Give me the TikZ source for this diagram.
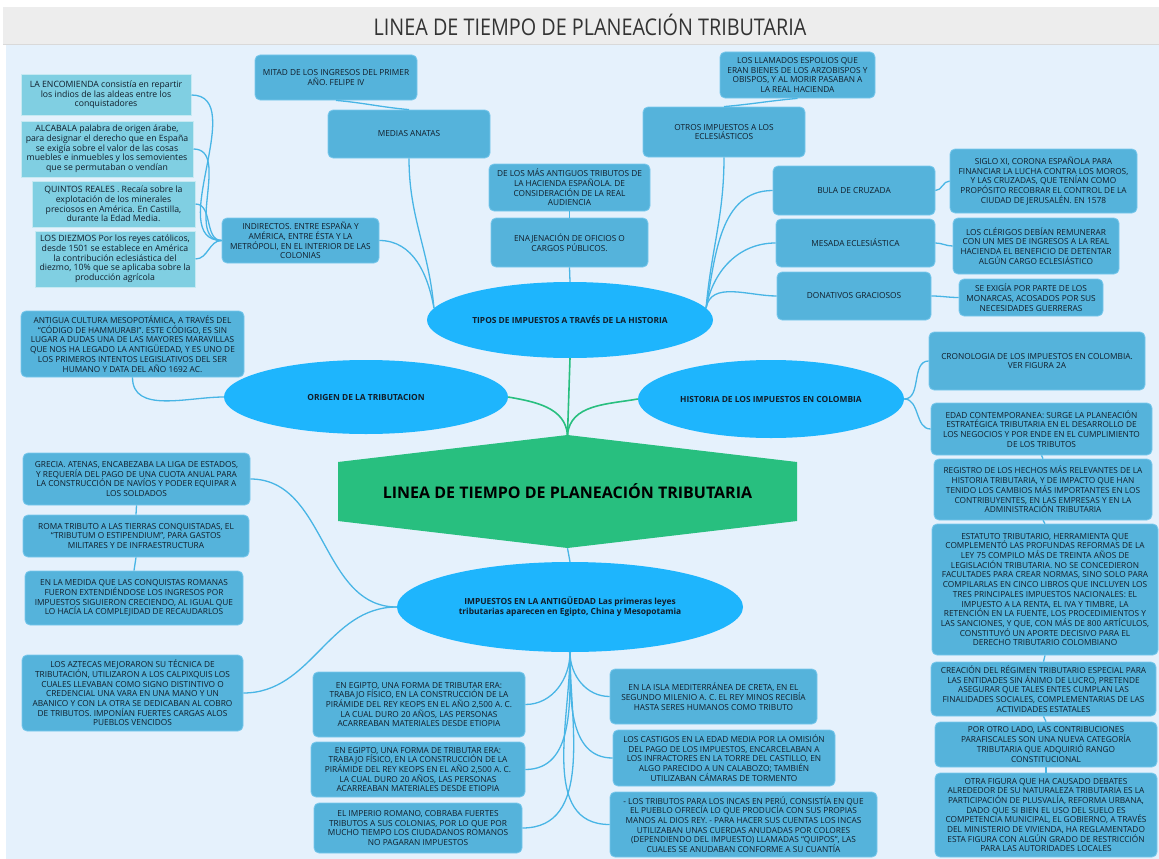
\documentclass[tikz,border=0pt]{standalone}
\usepackage{fontspec}
\setmainfont{Open Sans}
\newfontfamily\titlefont[FakeStretch=0.86]{Open Sans}
\usetikzlibrary{shapes.geometric}
\definecolor{bgblue}{HTML}{E5F1FC}
\definecolor{bargray}{HTML}{EDEDED}
\definecolor{boxblue}{HTML}{55B3DB}
\definecolor{boxline}{HTML}{78C8EC}
\definecolor{leafcyan}{HTML}{80CFE2}
\definecolor{ellblue}{HTML}{1EB5FD}
\definecolor{hexgreen}{HTML}{28BF7F}
\definecolor{linkblue}{HTML}{48B5E5}
\definecolor{txt}{HTML}{111E2B}
\begin{document}
\begin{tikzpicture}[x=1pt,y=-1pt,
  box/.style={rectangle, rounded corners=5pt, fill=boxblue, draw=boxline, line width=0.8pt,
    text=txt, align=center, inner sep=1pt, font=\fontsize{8.3}{9.7}\selectfont},
  leaf/.style={rectangle, fill=leafcyan, draw=white!55!leafcyan, line width=1pt,
    text=txt, align=center, inner sep=1pt, font=\fontsize{8.7}{9.7}\selectfont},
  topic/.style={ellipse, fill=ellblue, inner sep=0pt, text=txt, align=center,
    font=\bfseries\fontsize{8.4}{10}\selectfont},
  link/.style={draw=linkblue, line width=1.3pt},
  stem/.style={draw=hexgreen, line width=1.6pt}]
  \useasboundingbox (0,0) rectangle (1159,859);
  \fill[white] (0,0) rectangle (1159,859);
  \fill[bgblue] (6,45) rectangle (1159,859);
  \fill[bargray] (3,7) rectangle (1159,44);
  \draw[black!15] (3,44.5) -- (1159,44.5);
  \node[text=black!80] (title) at (590,25) {\titlefont\fontsize{23}{26}\selectfont LINEA DE TIEMPO DE PLANEACIÓN TRIBUTARIA};

  % centro
  \node[rectangle, minimum width=459pt, minimum height=113pt, inner sep=0pt, text=black,
    font=\bfseries\fontsize{16}{18}\selectfont,
    path picture={\fill[hexgreen] (path picture bounding box.north)
      -- ([yshift=-27pt]path picture bounding box.north east)
      -- ([yshift=27pt]path picture bounding box.south east)
      -- (path picture bounding box.south)
      -- ([yshift=27pt]path picture bounding box.south west)
      -- ([yshift=-27pt]path picture bounding box.north west) -- cycle;}]
    (main) at (567.5,491.5) {LINEA DE TIEMPO DE PLANEACIÓN TRIBUTARIA};

  % temas
  \node[topic, minimum width=286pt, minimum height=76pt] (tipos) at (570,320) {TIPOS DE IMPUESTOS A TRAVÉS DE LA HISTORIA};
  \node[topic, minimum width=284pt, minimum height=74pt] (origen) at (366,397) {ORIGEN DE LA TRIBUTACION};
  \node[topic, minimum width=266pt, minimum height=78pt] (historia) at (771,399) {HISTORIA DE LOS IMPUESTOS EN COLOMBIA};
  \node[topic, minimum width=346pt, minimum height=90pt] (imp) at (570,607) {IMPUESTOS EN LA ANTIGÜEDAD Las primeras leyes\\tributarias aparecen en Egipto, China y Mesopotamia};

  % tipos de impuestos
  \node[box, minimum width=162pt, minimum height=45pt] (mitad) at (336,77.5) {MITAD DE LOS INGRESOS DEL PRIMER\\AÑO. FELIPE IV};
  \node[box, minimum width=162pt, minimum height=48pt] (medias) at (409,134) {MEDIAS ANATAS};
  \node[box, minimum width=161pt, minimum height=47pt] (antiguos) at (569.5,187.5) {DE LOS MÁS ANTIGUOS TRIBUTOS DE\\LA HACIENDA ESPAÑOLA. DE\\CONSIDERACIÓN DE LA REAL\\AUDIENCIA};
  \node[box, minimum width=157pt, minimum height=49pt] (enaj) at (569.5,242.5) {ENAJENACIÓN DE OFICIOS O\\CARGOS PÚBLICOS.};
  \node[box, minimum width=157pt, minimum height=45pt] (indir) at (300.5,240.5) {INDIRECTOS. ENTRE ESPAÑA Y\\AMÉRICA, ENTRE ÉSTA Y LA\\METRÓPOLI, EN EL INTERIOR DE LAS\\COLONIAS};
  \node[leaf, minimum width=170pt, minimum height=40pt] (encom) at (106,95) {LA ENCOMIENDA consistía en repartir\\los indios de las aldeas entre los\\conquistadores};
  \node[leaf, minimum width=172pt, minimum height=56pt] (alcab) at (107,149) {ALCABALA palabra de origen árabe,\\para designar el derecho que en España\\se exigía sobre el valor de las cosas\\muebles e inmuebles y los semovientes\\que se permutaban o vendían};
  \node[leaf, minimum width=163pt, minimum height=46pt] (quint) at (113.5,204) {QUINTOS REALES . Recaía sobre la\\explotación de los minerales\\preciosos en América. En Castilla,\\durante la Edad Media.};
  \node[leaf, minimum width=160pt, minimum height=56pt] (diezm) at (115,259) {LOS DIEZMOS Por los reyes católicos,\\desde 1501 se establece en América\\la contribución eclesiástica del\\diezmo, 10\% que se aplicaba sobre la\\producción agrícola};
  \node[box, minimum width=155pt, minimum height=46pt] (espol) at (797.5,75) {LOS LLAMADOS ESPOLIOS QUE\\ERAN BIENES DE LOS ARZOBISPOS Y\\OBISPOS, Y AL MORIR PASABAN A\\LA REAL HACIENDA};
  \node[box, minimum width=162pt, minimum height=50pt] (otros) at (724,132) {OTROS IMPUESTOS A LOS\\ECLESIÁSTICOS};
  \node[box, minimum width=162pt, minimum height=49pt] (bula) at (854,190.5) {BULA DE CRUZADA};
  \node[box, minimum width=159pt, minimum height=48pt] (mesada) at (855.5,243) {MESADA ECLESIÁSTICA};
  \node[box, minimum width=154pt, minimum height=48pt] (donat) at (854,296) {DONATIVOS GRACIOSOS};
  \node[box, minimum width=187pt, minimum height=64pt] (siglo) at (1043.5,181) {SIGLO XI, CORONA ESPAÑOLA PARA\\FINANCIAR LA LUCHA CONTRA LOS MOROS,\\Y LAS CRUZADAS, QUE TENÍAN COMO\\PROPÓSITO RECOBRAR EL CONTROL DE LA\\CIUDAD DE JERUSALÉN. EN 1578};
  \node[box, minimum width=166pt, minimum height=56pt] (clerig) at (1036,246) {LOS CLÉRIGOS DEBÍAN REMUNERAR\\CON UN MES DE INGRESOS A LA REAL\\HACIENDA EL BENEFICIO DE DETENTAR\\ALGÚN CARGO ECLESIÁSTICO};
  \node[box, minimum width=144pt, minimum height=37pt] (exigia) at (1031,297.5) {SE EXIGÍA POR PARTE DE LOS\\MONARCAS, ACOSADOS POR SUS\\NECESIDADES GUERRERAS};

  % origen
  \node[box, minimum width=223pt, minimum height=66pt] (antigua) at (132.5,344) {ANTIGUA CULTURA MESOPOTÁMICA, A TRAVÉS DEL\\“CÓDIGO DE HAMMURABI”. ESTE CÓDIGO, ES SIN\\LUGAR A DUDAS UNA DE LAS MAYORES MARAVILLAS\\QUE NOS HA LEGADO LA ANTIGÜEDAD, Y ES UNO DE\\LOS PRIMEROS INTENTOS LEGISLATIVOS DEL SER\\HUMANO Y DATA DEL AÑO 1692 AC.};

  % colombia
  \node[box, minimum width=216pt, minimum height=58pt] (crono) at (1037,361) {CRONOLOGIA DE LOS IMPUESTOS EN COLOMBIA.\\VER FIGURA 2A};
  \node[box, minimum width=221pt, minimum height=52pt] (edad) at (1041.5,429) {EDAD CONTEMPORANEA: SURGE LA PLANEACIÓN\\ESTRATÉGICA TRIBUTARIA EN EL DESARROLLO DE\\LOS NEGOCIOS Y POR ENDE EN EL CUMPLIMIENTO\\DE LOS TRIBUTOS};
  \node[box, minimum width=218pt, minimum height=61pt] (regis) at (1043,489.5) {REGISTRO DE LOS HECHOS MÁS RELEVANTES DE LA\\HISTORIA TRIBUTARIA, Y DE IMPACTO QUE HAN\\TENIDO LOS CAMBIOS MÁS IMPORTANTES EN LOS\\CONTRIBUYENTES, EN LAS EMPRESAS Y EN LA\\ADMINISTRACIÓN TRIBUTARIA};
  \node[box, minimum width=226pt, minimum height=131pt] (estat) at (1045,589.5) {ESTATUTO TRIBUTARIO, HERRAMIENTA QUE\\COMPLEMENTÓ LAS PROFUNDAS REFORMAS DE LA\\LEY 75 COMPILO MÁS DE TREINTA AÑOS DE\\LEGISLACIÓN TRIBUTARIA. NO SE CONCEDIERON\\FACULTADES PARA CREAR NORMAS, SINO SOLO PARA\\COMPILARLAS EN CINCO LIBROS QUE INCLUYEN LOS\\TRES PRINCIPALES IMPUESTOS NACIONALES: EL\\IMPUESTO A LA RENTA, EL IVA Y TIMBRE, LA\\RETENCIÓN EN LA FUENTE, LOS PROCEDIMIENTOS Y\\LAS SANCIONES, Y QUE, CON MÁS DE 800 ARTÍCULOS,\\CONSTITUYÓ UN APORTE DECISIVO PARA EL\\DERECHO TRIBUTARIO COLOMBIANO};
  \node[box, minimum width=225pt, minimum height=54pt] (creac) at (1043.5,689) {CREACIÓN DEL RÉGIMEN TRIBUTARIO ESPECIAL PARA\\LAS ENTIDADES SIN ÁNIMO DE LUCRO, PRETENDE\\ASEGURAR QUE TALES ENTES CUMPLAN LAS\\FINALIDADES SOCIALES, COMPLEMENTARIAS DE LAS\\ACTIVIDADES ESTATALES};
  \node[box, minimum width=222pt, minimum height=45pt] (porotro) at (1046,744.5) {POR OTRO LADO, LAS CONTRIBUCIONES\\PARAFISCALES SON UNA NUEVA CATEGORÍA\\TRIBUTARIA QUE ADQUIRIÓ RANGO\\CONSTITUCIONAL};
  \node[box, minimum width=222pt, minimum height=84pt] (otra) at (1046,815) {OTRA FIGURA QUE HA CAUSADO DEBATES\\ALREDEDOR DE SU NATURALEZA TRIBUTARIA ES LA\\PARTICIPACIÓN DE PLUSVALÍA, REFORMA URBANA,\\DADO QUE SI BIEN EL USO DEL SUELO ES\\COMPETENCIA MUNICIPAL, EL GOBIERNO, A TRAVÉS\\DEL MINISTERIO DE VIVIENDA, HA REGLAMENTADO\\ESTA FIGURA CON ALGÚN GRADO DE RESTRICCIÓN\\PARA LAS AUTORIDADES LOCALES};

  % antiguedad
  \node[box, minimum width=227pt, minimum height=52pt] (grecia) at (136.5,479) {GRECIA. ATENAS, ENCABEZABA LA LIGA DE ESTADOS,\\Y REQUERÍA DEL PAGO DE UNA CUOTA ANUAL PARA\\LA CONSTRUCCIÓN DE NAVÍOS Y PODER EQUIPAR A\\LOS SOLDADOS};
  \node[box, minimum width=226pt, minimum height=42pt] (roma) at (136,536) {ROMA TRIBUTO A LAS TIERRAS CONQUISTADAS, EL\\“TRIBUTUM O ESTIPENDIUM”, PARA GASTOS\\MILITARES Y DE INFRAESTRUCTURA};
  \node[box, minimum width=218pt, minimum height=54pt] (medida) at (134,598) {EN LA MEDIDA QUE LAS CONQUISTAS ROMANAS\\FUERON EXTENDIÉNDOSE LOS INGRESOS POR\\IMPUESTOS SIGUIERON CRECIENDO, AL IGUAL QUE\\LO HACÍA LA COMPLEJIDAD DE RECAUDARLOS};
  \node[box, minimum width=221pt, minimum height=76pt] (aztec) at (132.5,693) {LOS AZTECAS MEJORARON SU TÉCNICA DE\\TRIBUTACIÓN, UTILIZARON A LOS CALPIXQUIS LOS\\CUALES LLEVABAN COMO SIGNO DISTINTIVO O\\CREDENCIAL UNA VARA EN UNA MANO Y UN\\ABANICO Y CON LA OTRA SE DEDICABAN AL COBRO\\DE TRIBUTOS. IMPONÍAN FUERTES CARGAS ALOS\\PUEBLOS VENCIDOS};
  \node[box, minimum width=212pt, minimum height=65pt] (egip1) at (419,704.5) {EN EGIPTO, UNA FORMA DE TRIBUTAR ERA:\\TRABAJO FÍSICO, EN LA CONSTRUCCIÓN DE LA\\PIRÁMIDE DEL REY KEOPS EN EL AÑO 2,500 A. C.\\LA CUAL DURO 20 AÑOS, LAS PERSONAS\\ACARREABAN MATERIALES DESDE ETIOPIA};
  \node[box, minimum width=214pt, minimum height=55pt] (egip2) at (418,769.5) {EN EGIPTO, UNA FORMA DE TRIBUTAR ERA:\\TRABAJO FÍSICO, EN LA CONSTRUCCIÓN DE LA\\PIRÁMIDE DEL REY KEOPS EN EL AÑO 2,500 A. C.\\LA CUAL DURO 20 AÑOS, LAS PERSONAS\\ACARREABAN MATERIALES DESDE ETIOPIA};
  \node[box, minimum width=208pt, minimum height=50pt] (imper) at (418,828) {EL IMPERIO ROMANO, COBRABA FUERTES\\TRIBUTOS A SUS COLONIAS, POR LO QUE POR\\MUCHO TIEMPO LOS CIUDADANOS ROMANOS\\NO PAGARAN IMPUESTOS};
  \node[box, minimum width=207pt, minimum height=55pt] (isla) at (713.5,696.5) {EN LA ISLA MEDITERRÁNEA DE CRETA, EN EL\\SEGUNDO MILENIO A. C. EL REY MINOS RECIBÍA\\HASTA SERES HUMANOS COMO TRIBUTO};
  \node[box, minimum width=222pt, minimum height=56pt] (castig) at (724,758) {LOS CASTIGOS EN LA EDAD MEDIA POR LA OMISIÓN\\DEL PAGO DE LOS IMPUESTOS, ENCARCELABAN A\\LOS INFRACTORES EN LA TORRE DEL CASTILLO, EN\\ALGO PARECIDO A UN CALABOZO; TAMBIÉN\\UTILIZABAN CÁMARAS DE TORMENTO};
  \node[box, minimum width=267pt, minimum height=65pt] (incas) at (743.5,824.5) {- LOS TRIBUTOS PARA LOS INCAS EN PERÚ, CONSISTÍA EN QUE\\EL PUEBLO OFRECÍA LO QUE PRODUCÍA CON SUS PROPIAS\\MANOS AL DIOS REY. - PARA HACER SUS CUENTAS LOS INCAS\\UTILIZABAN UNAS CUERDAS ANUDADAS POR COLORES\\(DEPENDIENDO DEL IMPUESTO) LLAMADAS “QUIPOS”, LAS\\CUALES SE ANUDABAN CONFORME A SU CUANTÍA};

  % conectores
  \draw[stem] (main.north) -- (tipos.south);
  \draw[stem] (main.north) to[out=95,in=-10] (origen.east);
  \draw[stem] (main.north) to[out=85,in=190] (historia.west);
  \draw[link] (main.south) -- (imp.north);
  \foreach \n in {encom, alcab, quint, diezm}
    \draw[link] (\n.east) to[out=0,in=180] (indir.west);
  \draw[link] (indir.east) to[out=0,in=100] (tipos.175);
  \draw[link] (medias.south) to[out=-90,in=95] (tipos.175);
  \draw[link] (mitad.south) to[out=-5,in=175] (medias.north);
  \draw[link] (antiguos.south) -- (enaj.north);
  \draw[link] (enaj.south) -- (tipos.north);
  \draw[link] (espol.south) to[out=185,in=5] (otros.north);
  \draw[link] (otros.south) to[out=-90,in=85] (tipos.5);
  \foreach \n in {bula, mesada, donat}
    \draw[link] (\n.west) to[out=180,in=80] (tipos.5);
  \draw[link] (bula.east) to[out=0,in=180] (siglo.west);
  \draw[link] (mesada.east) to[out=0,in=180] (clerig.west);
  \draw[link] (donat.east) to[out=0,in=180] (exigia.west);
  \draw[link] (antigua.south) to[out=-90,in=180] (origen.west);
  \draw[link] (historia.east) to[out=0,in=180] (crono.west);
  \draw[link] (historia.east) to[out=0,in=180] (edad.west);
  \draw[link] (edad.south) -- (regis.north);
  \draw[link] (regis.south) -- (estat.north);
  \draw[link] (estat.south) -- (creac.north);
  \draw[link] (creac.south) -- (porotro.north);
  \draw[link] (porotro.south) -- (otra.north);
  \draw[link] (imp.west) to[out=180,in=0] (grecia.east);
  \draw[link] (imp.west) to[out=180,in=0] (aztec.east);
  \draw[link] (grecia.south) -- (roma.north);
  \draw[link] (roma.south) -- (medida.north);
  \foreach \n in {egip1, egip2, imper}
    \draw[link] (imp.south) to[out=-90,in=0] (\n.east);
  \foreach \n in {isla, castig, incas}
    \draw[link] (imp.south) to[out=-90,in=180] (\n.west);
\end{tikzpicture}
\end{document}
